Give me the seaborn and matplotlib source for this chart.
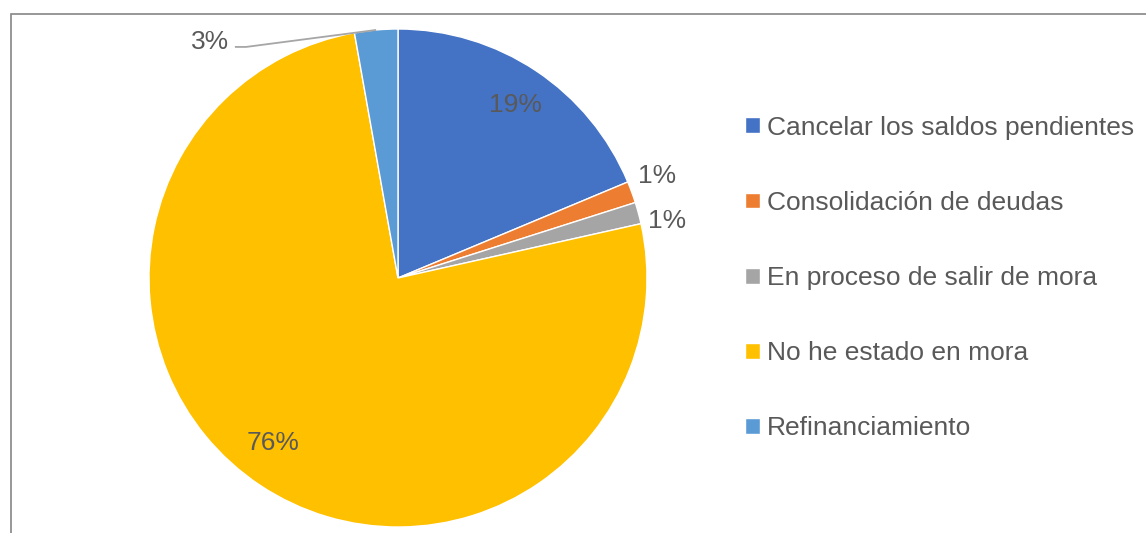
import numpy as np
import matplotlib
matplotlib.use("Agg")
import matplotlib.pyplot as plt
from matplotlib.patches import Rectangle
import seaborn as sns

# Survey shares (percent) of each category
categories = [
    "Cancelar los saldos pendientes",
    "Consolidación de deudas",
    "En proceso de salir de mora",
    "No he estado en mora",
    "Refinanciamiento",
]
shares = [18.7, 1.4, 1.4, 75.7, 2.8]
colors = ["#4472C4", "#ED7D31", "#A5A5A5", "#FFC000", "#5B9BD5"]

# Label anchor points in pie units (radius 1)
label_pos = [(0.47, 0.695), (1.04, 0.41), (1.08, 0.229), (-0.502, -0.663), (-0.68, 0.948)]

sns.set_theme(style="white")
plt.rcParams["font.family"] = ["Liberation Sans", "DejaVu Sans"]
text_color = "#595959"

W, H = 1146, 533
fig = plt.figure(figsize=(W / 100, H / 100), dpi=100)

# Square axes so that the unit circle has a radius of 249 px, centred at (398, 278)
cx, cy, r = 398, H - 278, 249
half = 1.2 * r
ax = fig.add_axes([(cx - half) / W, (cy - half) / H, 2 * half / W, 2 * half / H])

palette = sns.color_palette(colors)
wedges, _ = ax.pie(
    shares,
    colors=palette,
    startangle=90,
    counterclock=False,
    radius=1.0,
    wedgeprops=dict(edgecolor="white", linewidth=1.0),
)
ax.set_xlim(-1.2, 1.2)
ax.set_ylim(-1.2, 1.2)
ax.set_aspect("equal")
ax.axis("off")

fs = 19
for i, (w, v, (lx, ly)) in enumerate(zip(wedges, shares, label_pos)):
    label = f"{v:.0f}%"
    if i == len(shares) - 1:
        # small slice at the top: label off to the left with a leader line
        mid = np.deg2rad((w.theta1 + w.theta2) / 2)
        ex, ey = np.cos(mid), np.sin(mid)
        sx = -0.655
        sy = ly - 0.02
        ax.plot([sx, sx + 0.045, ex], [sy, sy, ey], color="#A6A6A6", lw=1.3,
                solid_capstyle="butt")
        ax.text(sx - 0.025, ly, label, ha="right", va="center",
                fontsize=fs, color=text_color)
    else:
        ax.text(lx, ly, label, ha="center", va="center",
                fontsize=fs, color=text_color)

leg = fig.legend(
    wedges, categories,
    loc="center left",
    bbox_to_anchor=(745 / W, 1 - 278 / H),
    frameon=False,
    fontsize=fs,
    handlelength=0.55,
    handleheight=0.55,
    handletextpad=0.28,
    labelspacing=1.94,
    borderpad=0,
    borderaxespad=0,
)
for t in leg.get_texts():
    t.set_color(text_color)

# Outer frame (left and top edges visible)
fig.patches.append(Rectangle((10.5 / W, -0.1), 1.2, (H - 13.5) / H + 0.1,
                             transform=fig.transFigure, fill=False,
                             edgecolor="#858585", linewidth=1.2))

fig.savefig("out.png", dpi=100)
